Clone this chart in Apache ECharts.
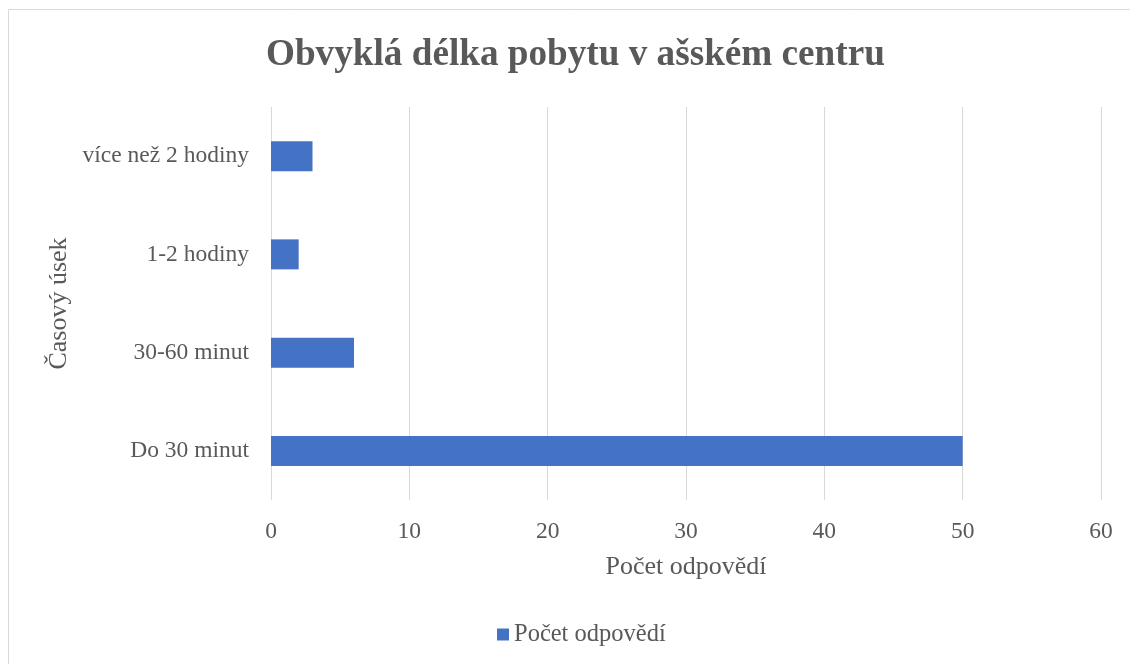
<!DOCTYPE html>
<html>
<head>
<meta charset="utf-8">
<script src="https://cdn.jsdelivr.net/npm/echarts@6/dist/echarts.min.js"></script>
<style>
  html, body { margin: 0; padding: 0; background: #fff; }
  #main { width: 1130px; height: 664px; }
</style>
</head>
<body>
<div id="main"></div>
<script>
var categories = ["Do 30 minut", "30-60 minut", "1-2 hodiny", "více než 2 hodiny"];
var counts = [50, 6, 2, 3];
var seriesName = "Počet odpovědí";

var chartDom = document.getElementById("main");
var myChart = echarts.init(chartDom);
var font = "'Liberation Serif', 'Times New Roman', serif";
var option;

option = {
  backgroundColor: "#fff",
  textStyle: { fontFamily: font },
  graphic: [
    {
      type: "rect",
      shape: { x: 8.5, y: 9.5, width: 1130, height: 700 },
      style: { fill: "none", stroke: "#d9d9d9", lineWidth: 1 },
      silent: true,
    },
  ],
  title: {
    text: "Obvyklá délka pobytu v ašském centru",
    left: 261,
    top: 32,
    textStyle: {
      fontFamily: font,
      fontSize: 37.2,
      fontWeight: "bold",
      color: "#595959",
    },
  },
  legend: {
    bottom: 12,
    left: 492,
    itemWidth: 12,
    itemHeight: 12,
    itemGap: 5,
    textStyle: { fontFamily: font, fontSize: 24.5, color: "#595959" },
    data: [{ name: seriesName, icon: "rect" }],
  },
  grid: {
    left: 271,
    right: 29,
    top: 107,
    bottom: 164,
    containLabel: false,
  },
  xAxis: {
    type: "value",
    min: 0,
    max: 60,
    interval: 10,
    name: "Počet odpovědí",
    nameLocation: "middle",
    nameGap: 54,
    nameTextStyle: { fontFamily: font, fontSize: 26, color: "#595959" },
    axisLine: { show: false },
    axisTick: { show: false },
    axisLabel: { fontFamily: font, fontSize: 23.5, color: "#595959", margin: 20 },
    splitLine: { lineStyle: { color: "#d9d9d9", width: 1 } },
  },
  yAxis: {
    type: "category",
    data: categories,
    name: "Časový úsek",
    nameLocation: "middle",
    nameGap: 196,
    nameRotate: 90,
    nameTextStyle: { fontFamily: font, fontSize: 26, color: "#595959" },
    axisLine: { show: false },
    axisTick: { show: false },
    axisLabel: { fontFamily: font, fontSize: 23.5, color: "#595959", margin: 22 },
  },
  series: [
    {
      name: seriesName,
      type: "bar",
      data: counts,
      barWidth: 30,
      itemStyle: { color: "#4472c4" },
    },
  ],
};

option && myChart.setOption(option);
</script>
</body>
</html>
